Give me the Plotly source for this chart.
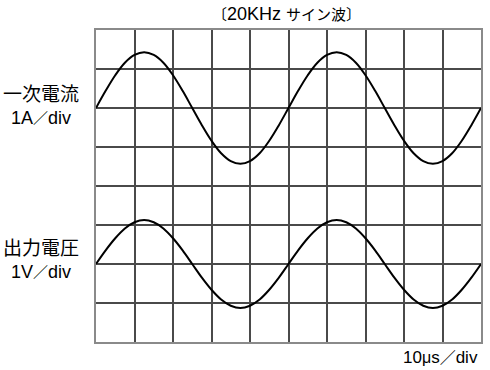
import plotly.graph_objects as go

# time axis in divisions (10 µs/div)
t_div = [i * 0.25 for i in range(41)]

# primary current trace, in screen divisions (centre at 6 div)
current_div = [6.00, 6.44, 6.84, 7.16, 7.36, 7.43, 7.36, 7.16, 6.84, 6.44,
               6.00, 5.56, 5.16, 4.84, 4.64, 4.57, 4.64, 4.84, 5.16, 5.56,
               6.00, 6.44, 6.84, 7.16, 7.36, 7.43, 7.36, 7.16, 6.84, 6.44,
               6.00, 5.56, 5.16, 4.84, 4.64, 4.57, 4.64, 4.84, 5.16, 5.56,
               6.00]

# output voltage trace, in screen divisions (centre at 2 div)
voltage_div = [2.00, 2.35, 2.66, 2.91, 3.07, 3.13, 3.07, 2.91, 2.66, 2.35,
               2.00, 1.65, 1.34, 1.09, 0.93, 0.87, 0.93, 1.09, 1.34, 1.65,
               2.00, 2.35, 2.66, 2.91, 3.07, 3.13, 3.07, 2.91, 2.66, 2.35,
               2.00, 1.65, 1.34, 1.09, 0.93, 0.87, 0.93, 1.09, 1.34, 1.65,
               2.00]

CJK = "Noto Sans CJK JP"
LAT = "Liberation Sans"


def cjk(s, size):
    return f'<span style="font-family:{CJK};font-size:{size}px">{s}</span>'


def lat(s, size):
    return f'<span style="font-family:{LAT};font-size:{size}px">{s}</span>'


title_text = cjk("〔", 15) + lat("20KHz ", 18) + cjk("サイン波〕", 15)
label_current = cjk("一次電流", 19) + "<br>" + lat("1A", 18) + cjk("／", 15) + lat("div", 18)
label_voltage = cjk("出力電圧", 19) + "<br>" + lat("1V", 18) + cjk("／", 15) + lat("div", 18)
label_time = lat("10", 17) + lat("μ", 16) + lat("s", 17) + cjk("／", 16) + lat("div", 17)

fig = go.Figure()
for ys in (current_div, voltage_div):
    fig.add_trace(go.Scatter(x=t_div, y=ys, mode="lines",
                             line=dict(color="black", width=2, shape="spline"),
                             hoverinfo="skip", showlegend=False))

axis_common = dict(showgrid=True, gridcolor="#4a4a4a", gridwidth=2,
                   zeroline=False, showticklabels=False, ticks="",
                   showline=True, linecolor="#8a8a8a", linewidth=2, mirror=True,
                   fixedrange=True)
fig.update_xaxes(range=[0, 10], dtick=1, tick0=0, **axis_common)
fig.update_yaxes(range=[0, 8], dtick=1, tick0=0, **axis_common)

ann = []


def add(text, x, y, size=15, xanchor="center", yanchor="middle"):
    ann.append(dict(text=text, x=x, y=y, xref="paper", yref="paper",
                    xanchor=xanchor, yanchor=yanchor, align="center",
                    showarrow=False,
                    font=dict(family=CJK, size=size, color="black")))


add(title_text, 0.496, 1.053)
add(label_current, -0.142, 0.765, size=17.6)
add(label_voltage, -0.142, 0.271, size=17.6)
add(label_time, 0.997, -0.09, xanchor="right", yanchor="bottom")

fig.update_layout(width=490, height=370,
                  margin=dict(l=96, r=7, t=30, b=28),
                  paper_bgcolor="white", plot_bgcolor="white",
                  annotations=ann, font=dict(family=CJK))

fig.write_html("out.html")
